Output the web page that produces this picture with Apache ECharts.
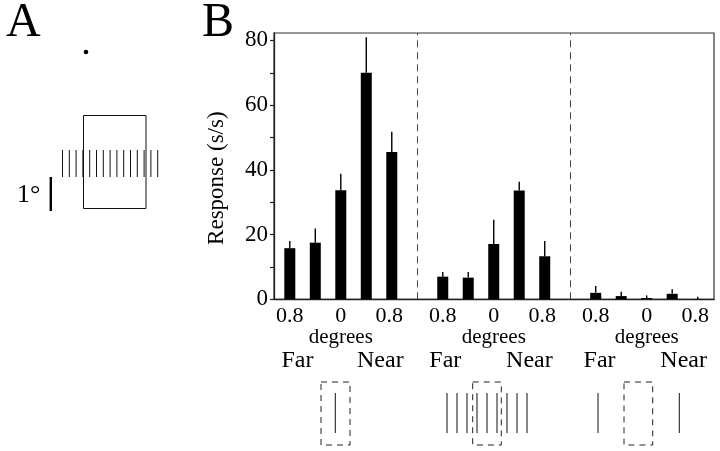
<!DOCTYPE html>
<html><head><meta charset="utf-8">
<script src="https://cdn.jsdelivr.net/npm/echarts@6/dist/echarts.min.js"></script>
<style>html,body{margin:0;padding:0;background:#fff}#c{width:720px;height:451px}</style>
</head><body><div id="c"></div>
<script>
// Bar positions on the x scale (3 panels of 5 disparities, gaps at 5 and 11)
const positions = [0, 1, 2, 3, 4, 6, 7, 8, 9, 10, 12, 13, 14, 15, 16];
const responses = [15.8, 17.5, 33.7, 70.0, 45.5, 7.0, 6.7, 17.1, 33.6, 13.3, 2.0, 1.0, 0.4, 1.7, 0.1];
const errorTops = [18.0, 21.9, 38.8, 81.0, 51.8, 8.4, 8.4, 24.6, 36.3, 18.0, 4.1, 2.3, 1.2, 3.1, 0.8];
const separators = [5, 11];
const tickValues = [0, 2, 3.9, 6, 8, 9.9, 12, 14, 15.9];
const tickLabels = ['0.8', '0', '0.8', '0.8', '0', '0.8', '0.8', '0', '0.8'];
const degreeValues = [2, 8, 14];
const farValues = [0.3, 6.1, 12.15];
const nearValues = [3.55, 9.4, 15.45];
const yTickValues = [0, 10, 20, 30, 40, 50, 60, 70, 80];
const yLabelValues = [0, 20, 40, 60, 80];

const FONT = '"Liberation Serif", "DejaVu Serif", serif';
const X_MIN = -0.62, X_MAX = 16.64;

const barData = positions.map((p, i) => [p, responses[i]]);
const errData = positions.map((p, i) => [p, responses[i], errorTops[i]]);

function xAxisBase(extra) {
  return Object.assign({
    type: 'value', min: X_MIN, max: X_MAX, position: 'bottom',
    splitLine: { show: false }, axisTick: { show: false }
  }, extra);
}

const chart = echarts.init(document.getElementById('c'));
chart.setOption({
  backgroundColor: '#fff',
  animation: false,
  textStyle: { fontFamily: FONT, color: '#000' },
  grid: {
    left: 274, right: 6, top: 33, bottom: 151.7,
    show: true, borderColor: '#333', borderWidth: 1.2, backgroundColor: 'transparent'
  },
  xAxis: [
    xAxisBase({
      axisLine: { show: true, onZero: false, lineStyle: { color: '#222', width: 1.3 } },
      axisLabel: {
        customValues: tickValues, margin: 6, fontSize: 22, fontFamily: FONT, color: '#000',
        formatter: v => tickLabels[tickValues.indexOf(v)]
      }
    }),
    xAxisBase({
      offset: 24, axisLine: { show: false },
      axisLabel: {
        customValues: degreeValues, margin: 4, fontSize: 21, fontFamily: FONT, color: '#000',
        formatter: () => 'degrees'
      }
    }),
    xAxisBase({
      offset: 45.5, axisLine: { show: false },
      axisLabel: {
        customValues: farValues.concat(nearValues), margin: 4, fontSize: 24, fontFamily: FONT, color: '#000',
        formatter: v => farValues.indexOf(v) >= 0 ? 'Far' : 'Near'
      }
    })
  ],
  yAxis: {
    type: 'value', min: 0, max: 82.3,
    name: 'Response (s/s)', nameLocation: 'middle', nameGap: 46,
    nameTextStyle: { fontSize: 23, fontFamily: FONT, color: '#000', padding: [0, 24, 0, 0] },
    splitLine: { show: false },
    axisLine: { show: true, onZero: false, lineStyle: { color: '#222', width: 1.3 } },
    axisTick: { show: true, customValues: yTickValues, length: 4, lineStyle: { color: '#222', width: 1.2 } },
    axisLabel: { customValues: yLabelValues, margin: 6, fontSize: 23, fontFamily: FONT, color: '#000' }
  },
  series: [
    {
      type: 'bar', xAxisIndex: 0, data: barData, barWidth: 11,
      itemStyle: { color: '#000' },
      markLine: {
        silent: true, symbol: 'none', label: { show: false },
        lineStyle: { color: '#444', width: 1, type: [7, 5] },
        data: separators.map(s => ({ xAxis: s }))
      }
    },
    {
      type: 'custom', xAxisIndex: 0, data: errData,
      renderItem: function (params, api) {
        const x = api.value(0);
        const p0 = api.coord([x, api.value(1)]);
        const p1 = api.coord([x, api.value(2)]);
        return {
          type: 'line',
          shape: { x1: p0[0], y1: p0[1], x2: p1[0], y2: p1[1] },
          style: { stroke: '#000', lineWidth: 1.4 }
        };
      }
    }
  ],
  graphic: buildGraphics()
});

function buildGraphics() {
  const g = [];
  const txt = (x, y, text, size) => g.push({
    type: 'text', left: x, top: y,
    style: { text: text, font: size + 'px ' + FONT, fill: '#000' }
  });
  txt(6, -1, 'A', 48);
  txt(202, -1, 'B', 48);
  // Panel A schematic
  g.push({ type: 'circle', shape: { cx: 86, cy: 52, r: 2.3 }, style: { fill: '#000' } });
  g.push({ type: 'rect', shape: { x: 83.5, y: 115.5, width: 62.5, height: 93 }, style: { fill: 'none', stroke: '#111', lineWidth: 1 } });
  for (let i = 0; i < 15; i++) {
    const x = 62.5 + i * 6.8;
    g.push({ type: 'line', shape: { x1: x, y1: 150, x2: x, y2: 177 }, style: { stroke: '#111', lineWidth: 1 } });
  }
  g.push({ type: 'line', shape: { x1: 50.8, y1: 177, x2: 50.8, y2: 211 }, style: { stroke: '#000', lineWidth: 2.4 } });
  txt(17, 182, '1°', 26);
  // Bottom stimulus diagrams
  const dashRect = (x, w) => g.push({ type: 'rect', shape: { x: x, y: 382, width: w, height: 63 },
    style: { fill: 'none', stroke: '#222', lineWidth: 1, lineDash: [6, 5] } });
  const vline = x => g.push({ type: 'line', shape: { x1: x, y1: 393, x2: x, y2: 433 }, style: { stroke: '#111', lineWidth: 1 } });
  dashRect(321, 29);
  vline(335.3);
  [447, 457, 467, 477, 487, 497, 507, 517, 527].forEach(vline);
  dashRect(472.7, 28.6);
  dashRect(624, 28.7);
  vline(598); vline(679.3);
  return g;
}
</script>
</body></html>
